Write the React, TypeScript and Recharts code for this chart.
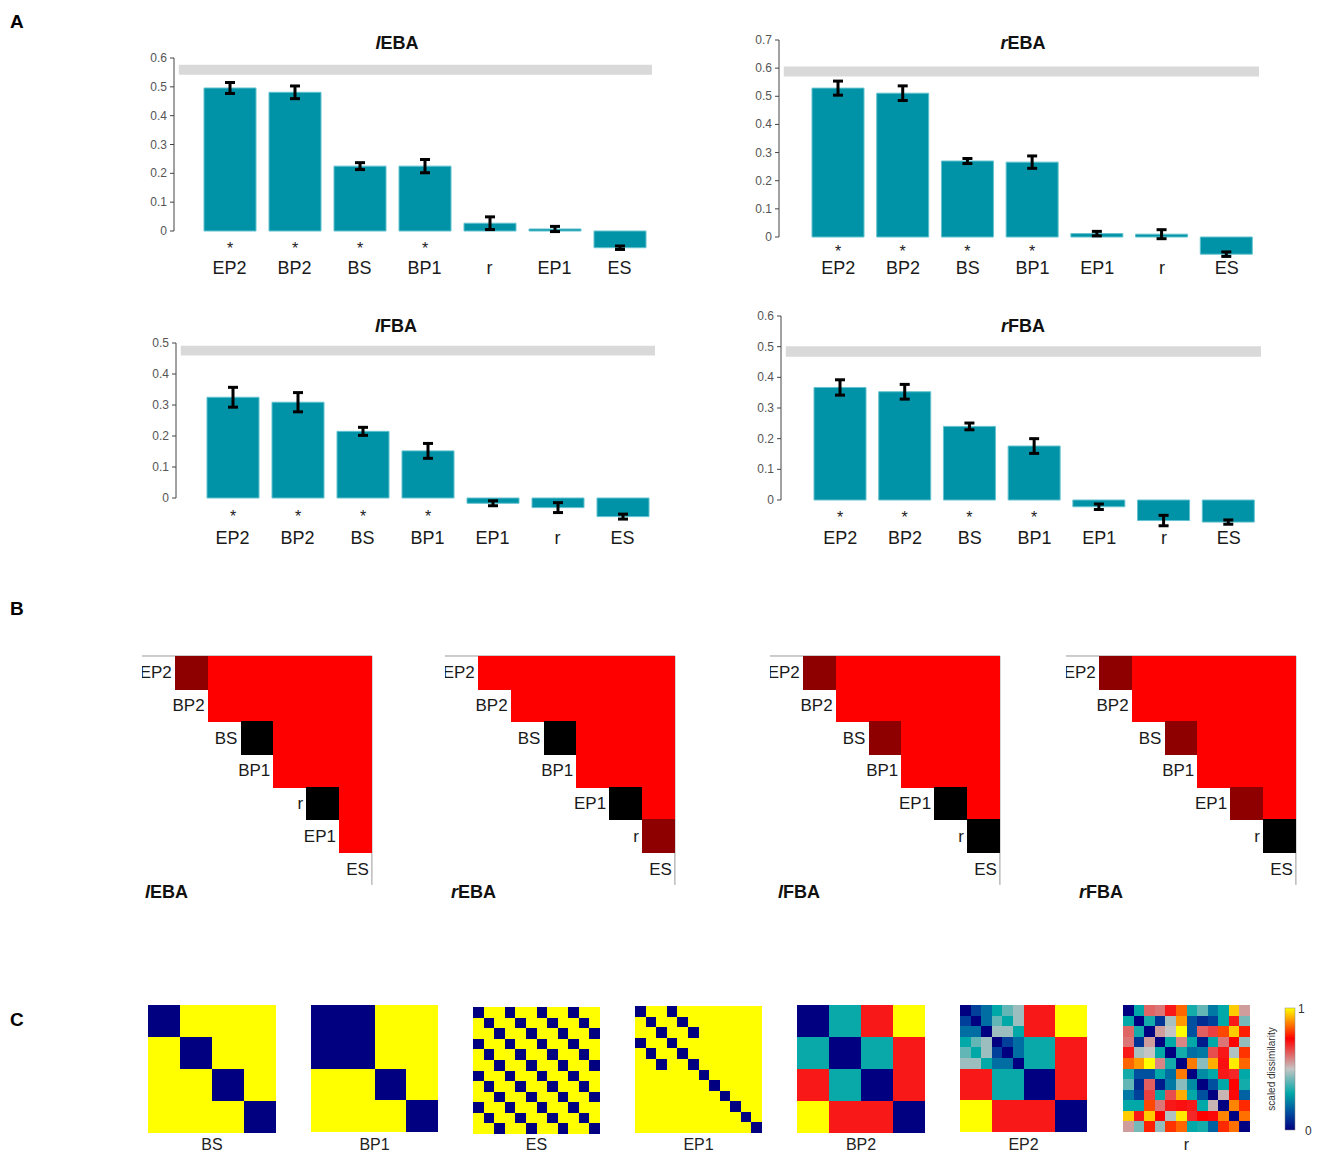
import React from "react";
import {
  BarChart,
  Bar,
  XAxis,
  YAxis,
  ErrorBar,
  ReferenceArea,
  LabelList,
  ScatterChart,
  Scatter,
} from "recharts";

const FONT = "'Liberation Sans', Arial, Helvetica, sans-serif";
const BAR_FILL = "#0092a6";

// ---------- A: model fits per region ----------
const LEBA_MODELS = ["EP2", "BP2", "BS", "BP1", "r", "EP1", "ES"];
const LEBA_MEANS = [0.496, 0.481, 0.225, 0.225, 0.027, 0.007, -0.058];
const LEBA_SEM = [0.019, 0.022, 0.012, 0.023, 0.022, 0.009, 0.006];
const LEBA_SIG = [1, 1, 1, 1, 0, 0, 0];
const LEBA_CEILING = [0.542, 0.577];

const REBA_MODELS = ["EP2", "BP2", "BS", "BP1", "EP1", "r", "ES"];
const REBA_MEANS = [0.529, 0.511, 0.27, 0.266, 0.012, 0.01, -0.061];
const REBA_SEM = [0.025, 0.026, 0.009, 0.022, 0.008, 0.016, 0.008];
const REBA_SIG = [1, 1, 1, 1, 0, 0, 0];
const REBA_CEILING = [0.57, 0.606];

const LFBA_MODELS = ["EP2", "BP2", "BS", "BP1", "EP1", "r", "ES"];
const LFBA_MEANS = [0.325, 0.309, 0.215, 0.152, -0.017, -0.031, -0.06];
const LFBA_SEM = [0.032, 0.031, 0.013, 0.024, 0.008, 0.016, 0.008];
const LFBA_SIG = [1, 1, 1, 1, 0, 0, 0];
const LFBA_CEILING = [0.46, 0.491];

const RFBA_MODELS = ["EP2", "BP2", "BS", "BP1", "EP1", "r", "ES"];
const RFBA_MEANS = [0.367, 0.353, 0.24, 0.176, -0.022, -0.067, -0.072];
const RFBA_SEM = [0.025, 0.024, 0.011, 0.024, 0.009, 0.017, 0.007];
const RFBA_SIG = [1, 1, 1, 1, 0, 0, 0];
const RFBA_CEILING = [0.467, 0.501];

// ---------- B: pairwise model comparisons (0 = n.s., 1 = weak, 2 = significant) ----------
const B_LEBA_LABELS = ["EP2", "BP2", "BS", "BP1", "r", "EP1", "ES"];
const B_LEBA_ROWS = [[1, 2, 2, 2, 2, 2], [2, 2, 2, 2, 2], [0, 2, 2, 2], [2, 2, 2], [0, 2], [2]];
const B_REBA_LABELS = ["EP2", "BP2", "BS", "BP1", "EP1", "r", "ES"];
const B_REBA_ROWS = [[2, 2, 2, 2, 2, 2], [2, 2, 2, 2, 2], [0, 2, 2, 2], [2, 2, 2], [0, 2], [1]];
const B_LFBA_LABELS = ["EP2", "BP2", "BS", "BP1", "EP1", "r", "ES"];
const B_LFBA_ROWS = [[1, 2, 2, 2, 2, 2], [2, 2, 2, 2, 2], [1, 2, 2, 2], [2, 2, 2], [0, 2], [0]];
const B_RFBA_LABELS = ["EP2", "BP2", "BS", "BP1", "EP1", "r", "ES"];
const B_RFBA_ROWS = [[1, 2, 2, 2, 2, 2], [2, 2, 2, 2, 2], [1, 2, 2, 2], [2, 2, 2], [1, 2], [0]];
const PAIR_COLORS = ["#000000", "#8e0000", "#ff0000"];

// ---------- C: model RDMs ----------
const BS_GROUPS = [0, 1, 2, 3];
const BP1_GROUPS = [0, 0, 1, 2];
const ES_GROUPS = [0, 1, 2, 0, 1, 2, 0, 1, 2, 0, 1, 2];
const EP1_GROUPS = [0, 1, 2, 0, 1, 2, 3, 4, 5, 6, 7, 8];
const BP2_RDM = [
  [0, 0.31, 0.72, 1],
  [0.31, 0, 0.31, 0.72],
  [0.72, 0.31, 0, 0.72],
  [1, 0.72, 0.72, 0],
];
const EP2_FINE = [
  [0, 0.12, 0.2, 0.3, 0.4, 0.46],
  [0.12, 0, 0.2, 0.4, 0.3, 0.46],
  [0.2, 0.2, 0, 0.46, 0.46, 0.3],
  [0.3, 0.4, 0.46, 0, 0.12, 0.2],
  [0.4, 0.3, 0.46, 0.12, 0, 0.2],
  [0.46, 0.46, 0.3, 0.2, 0.2, 0],
];
// upper triangle of the random model, row i holds columns i+1..11
const R_UPPER = [
  [0.3, 0.62, 0.6, 0.72, 0.85, 0.32, 0.4, 0.22, 0.3, 0.95, 0.55],
  [0.32, 0.1, 0.47, 0.9, 0.15, 0.08, 0.12, 0.3, 0.72, 0.42],
  [0.55, 0.5, 1.0, 0.15, 0.63, 0.67, 0.82, 0.95, 0.78],
  [0.3, 0.58, 0.3, 0.05, 0.3, 0.6, 0.75, 0.45],
  [0.32, 0.2, 0.22, 0.65, 0.72, 0.48, 0.8],
  [0.87, 0.44, 0.92, 0.73, 0.98, 0.85],
  [0.25, 0.3, 0.72, 0.7, 0.3],
  [0.15, 0.3, 0.75, 0.32],
  [0.52, 0.74, 0.18],
  [0.88, 0.79],
  [0.86],
];

const CMAP: [number, number[]][] = [
  [0, [0, 0, 128]],
  [0.15, [0, 80, 160]],
  [0.3, [0, 168, 168]],
  [0.5, [196, 196, 196]],
  [0.75, [255, 0, 0]],
  [1, [255, 255, 0]],
];

function colormap(v: number) {
  for (let k = 1; k < CMAP.length; k++) {
    const [p1, c1] = CMAP[k];
    const [p0, c0] = CMAP[k - 1];
    if (v <= p1) {
      const t = (v - p0) / (p1 - p0);
      const c = c0.map((a, i) => Math.round(a + (c1[i] - a) * t));
      return `rgb(${c[0]},${c[1]},${c[2]})`;
    }
  }
  return "rgb(255,255,0)";
}

const fromGroups = (g: number[]) => g.map((a) => g.map((b) => (a === b ? 0 : 1)));
const ep2Matrix = () =>
  Array.from({ length: 12 }, (_, i) =>
    Array.from({ length: 12 }, (_, j) =>
      i < 6 && j < 6 ? EP2_FINE[i][j] : BP2_RDM[Math.floor(i / 3)][Math.floor(j / 3)],
    ),
  );
const fromUpper = (u: number[][]) => {
  const n = u.length + 1;
  const m = Array.from({ length: n }, () => Array(n).fill(0));
  u.forEach((row, i) =>
    row.forEach((v, k) => {
      m[i][i + 1 + k] = v;
      m[i + 1 + k][i] = v;
    }),
  );
  return m;
};

function Title({ region, x, y, align }: any) {
  return (
    <div
      style={{
        position: "absolute",
        left: align === "left" ? x : x - 60,
        width: 120,
        top: y - 11,
        lineHeight: "22px",
        textAlign: align === "left" ? "left" : "center",
        fontSize: 18,
        fontWeight: "bold",
        fontFamily: FONT,
        color: "#111",
      }}
    >
      <i>{region[0]}</i>
      {region.slice(1)}
    </div>
  );
}

function BarPanel(props: any) {
  const {
    region, models, means, sem, sig, ceiling, yMax, yMin,
    plotLeft, plotRight, plotTop, zeroY, padLeft, labelY, starGap, titleX, titleY,
  } = props;
  const ppu = (zeroY - plotTop) / yMax;
  const plotBottom = zeroY - yMin * ppu;
  const left = plotLeft - 45;
  const top = plotTop - 10;
  const width = plotRight + 6 - left;
  const height = labelY + 16 - top;
  const xAxisHeight = height - 10 - (plotBottom - plotTop);
  const last = models.length - 1;
  const data = models.map((m: string, i: number) => ({
    model: m,
    value: means[i],
    sem: sem[i],
    star: sig[i] ? "*" : "",
  }));
  const ticks: number[] = [];
  for (let t = 0; t <= Math.round(yMax * 10); t++) ticks.push(t / 10);

  const YTick = (p: any) => {
    const v = p.payload.value;
    return (
      <g>
        {v === 0 && (
          <line x1={p.x + 7} x2={p.x + 7} y1={p.y} y2={p.y - yMax * ppu} stroke="#444" strokeWidth={1} />
        )}
        <text x={p.x} y={p.y} dy={4} textAnchor="end" fontSize={12} fill="#555" fontFamily={FONT}>
          {v === 0 ? "0" : v.toFixed(1)}
        </text>
      </g>
    );
  };
  const XTick = (p: any) => (
    <text x={p.x} y={labelY - top} dy={6} textAnchor="middle" fontSize={18} fill="#1a1a1a" fontFamily={FONT}>
      {p.payload.value}
    </text>
  );
  const renderStar = (p: any) =>
    p.value ? (
      <text x={p.x + p.width / 2} y={p.y + p.height + starGap + 9} textAnchor="middle" fontSize={16} fill="#222" fontFamily={FONT}>
        *
      </text>
    ) : (
      <g />
    );

  return (
    <>
      <div style={{ position: "absolute", left, top }}>
        <BarChart width={width} height={height} data={data} margin={{ top: 10, right: 6, left: 0, bottom: 0 }}>
          <XAxis xAxisId="full" type="number" domain={[0, last]} hide allowDataOverflow />
          <ReferenceArea xAxisId="full" x1={last * 0.01} x2={last} y1={ceiling[0]} y2={ceiling[1]} fill="#d9d9d9" fillOpacity={1} stroke="none" />
          <XAxis
            dataKey="model"
            axisLine={false}
            tickLine={false}
            interval={0}
            height={xAxisHeight}
            padding={{ left: padLeft, right: 0 }}
            tick={XTick}
          />
          <YAxis
            width={45}
            domain={[yMin, yMax]}
            ticks={ticks}
            axisLine={false}
            tickSize={4}
            tickMargin={3}
            tickLine={{ stroke: "#444" }}
            tick={YTick}
          />
          <Bar dataKey="value" fill={BAR_FILL} stroke="#62c2cf" strokeWidth={1} barSize={52} isAnimationActive={false}>
            <ErrorBar dataKey="sem" width={5} strokeWidth={3} stroke="#000" direction="y" />
            <LabelList dataKey="star" content={renderStar} />
          </Bar>
        </BarChart>
      </div>
      <Title region={region} x={titleX} y={titleY} />
    </>
  );
}

function PairMatrix({ region, labels, rows, gridLeft, gridTop, titleX, titleY }: any) {
  const n = labels.length;
  const cell = 32.7;
  const size = n * cell;
  const cells: any[] = [];
  rows.forEach((r: number[], i: number) =>
    r.forEach((code, k) => cells.push({ col: i + 1 + k, row: i, code })),
  );
  const diag = labels.map((l: string, i: number) => ({ col: i, row: i, label: l }));
  const idx = labels.map((_: string, i: number) => i);
  const cellShape = (p: any) => (
    <rect x={p.cx - cell / 2} y={p.cy - cell / 2} width={cell + 1} height={cell + 1}
      fill={PAIR_COLORS[p.payload.code]} shapeRendering="crispEdges" />
  );
  const labelShape = (p: any) => (
    <text x={p.cx + cell / 2 - 3} y={p.cy} dy={6} textAnchor="end" fontSize={17} fill="#1a1a1a" fontFamily={FONT}>
      {p.payload.label}
    </text>
  );
  return (
    <>
      <div style={{ position: "absolute", left: gridLeft - 20, top: gridTop - 11 }}>
        <ScatterChart width={size + 32} height={size + 16} margin={{ top: 10, left: 20, right: 10, bottom: 5 }}>
          <XAxis type="number" dataKey="col" orientation="top" domain={[-0.5, n - 0.5]} ticks={idx} tick={false}
            height={1} axisLine={{ stroke: "#999" }} tickLine={{ stroke: "#999" }} tickSize={3} allowDataOverflow />
          <YAxis type="number" dataKey="row" orientation="right" domain={[-0.5, n - 0.5]} reversed ticks={idx} tick={false}
            width={1} axisLine={{ stroke: "#999" }} tickLine={{ stroke: "#999" }} tickSize={3} allowDataOverflow />
          <Scatter data={cells} shape={cellShape} isAnimationActive={false} />
          <Scatter data={diag} shape={labelShape} isAnimationActive={false} />
        </ScatterChart>
      </div>
      <Title region={region} x={titleX} y={titleY} align="left" />
    </>
  );
}

function Heat({ matrix, left, top, size, label }: any) {
  const n = matrix.length;
  const c = size / n;
  const data: any[] = [];
  matrix.forEach((row: number[], i: number) => row.forEach((v, j) => data.push({ x: j, y: i, v })));
  const shape = (p: any) => (
    <rect x={p.cx - c / 2} y={p.cy - c / 2} width={c + 0.6} height={c + 0.6} fill={colormap(p.payload.v)} shapeRendering="crispEdges" />
  );
  return (
    <>
      <div style={{ position: "absolute", left, top }}>
        <ScatterChart width={size} height={size} margin={{ top: 0, right: 0, bottom: 0, left: 0 }}>
          <XAxis type="number" dataKey="x" domain={[-0.5, n - 0.5]} hide allowDataOverflow />
          <YAxis type="number" dataKey="y" domain={[-0.5, n - 0.5]} reversed hide allowDataOverflow />
          <Scatter data={data} shape={shape} isAnimationActive={false} />
        </ScatterChart>
      </div>
      <div style={{ position: "absolute", left: left + size / 2 - 40, width: 80, top: 1135, lineHeight: "20px", textAlign: "center", fontSize: 16, fontFamily: FONT, color: "#222" }}>
        {label}
      </div>
    </>
  );
}

function Colorbar() {
  return (
    <svg style={{ position: "absolute", left: 1260, top: 1000 }} width={57} height={140}>
      <defs>
        <linearGradient id="cbar" x1="0" y1="1" x2="0" y2="0">
          {CMAP.map(([p]) => (
            <stop key={p} offset={`${p * 100}%`} stopColor={colormap(p)} />
          ))}
        </linearGradient>
      </defs>
      <rect x={25} y={8} width={10} height={122} fill="url(#cbar)" stroke="#888" strokeWidth={0.5} />
      <text x={38} y={13} fontSize={12} fill="#333" fontFamily={FONT}>1</text>
      <text x={45} y={135} fontSize={12} fill="#333" fontFamily={FONT}>0</text>
      <text transform="translate(15,69) rotate(-90)" textAnchor="middle" fontSize={10} fill="#333" fontFamily={FONT}>
        scaled dissimilarity
      </text>
    </svg>
  );
}

const Letter = ({ ch, y }: any) => (
  <div style={{ position: "absolute", left: 10, top: y - 11, lineHeight: "22px", fontSize: 19, fontWeight: "bold", fontFamily: FONT }}>
    {ch}
  </div>
);

export default function App() {
  return (
    <div style={{ position: "absolute", left: 0, top: 0, width: 1317, height: 1153, background: "#fff", fontFamily: FONT }}>
      <Letter ch="A" y={22} />
      <Letter ch="B" y={609} />
      <Letter ch="C" y={1020} />

      <BarPanel region="lEBA" models={LEBA_MODELS} means={LEBA_MEANS} sem={LEBA_SEM} sig={LEBA_SIG} ceiling={LEBA_CEILING}
        yMax={0.6} yMin={-0.075} plotLeft={174} plotRight={652} plotTop={58} zeroY={231} padLeft={23}
        labelY={268} starGap={14} titleX={397} titleY={43} />
      <BarPanel region="rEBA" models={REBA_MODELS} means={REBA_MEANS} sem={REBA_SEM} sig={REBA_SIG} ceiling={REBA_CEILING}
        yMax={0.7} yMin={-0.08} plotLeft={779} plotRight={1259} plotTop={40} zeroY={237} padLeft={27}
        labelY={268} starGap={11} titleX={1023} titleY={43} />
      <BarPanel region="lFBA" models={LFBA_MODELS} means={LFBA_MEANS} sem={LFBA_SEM} sig={LFBA_SIG} ceiling={LFBA_CEILING}
        yMax={0.5} yMin={-0.08} plotLeft={176} plotRight={655} plotTop={343} zeroY={498} padLeft={24}
        labelY={538} starGap={15} titleX={396} titleY={326} />
      <BarPanel region="rFBA" models={RFBA_MODELS} means={RFBA_MEANS} sem={RFBA_SEM} sig={RFBA_SIG} ceiling={RFBA_CEILING}
        yMax={0.6} yMin={-0.095} plotLeft={781} plotRight={1261} plotTop={316} zeroY={500} padLeft={27}
        labelY={538} starGap={14} titleX={1023} titleY={326} />

      <PairMatrix region="lEBA" labels={B_LEBA_LABELS} rows={B_LEBA_ROWS} gridLeft={142} gridTop={656} titleX={145} titleY={892} />
      <PairMatrix region="rEBA" labels={B_REBA_LABELS} rows={B_REBA_ROWS} gridLeft={445} gridTop={656} titleX={451} titleY={892} />
      <PairMatrix region="lFBA" labels={B_LFBA_LABELS} rows={B_LFBA_ROWS} gridLeft={770} gridTop={656} titleX={778} titleY={892} />
      <PairMatrix region="rFBA" labels={B_RFBA_LABELS} rows={B_RFBA_ROWS} gridLeft={1066} gridTop={656} titleX={1079} titleY={892} />

      <Heat matrix={fromGroups(BS_GROUPS)} left={148} top={1005} size={128} label="BS" />
      <Heat matrix={fromGroups(BP1_GROUPS)} left={311} top={1005} size={127} label="BP1" />
      <Heat matrix={fromGroups(ES_GROUPS)} left={473} top={1007} size={127} label="ES" />
      <Heat matrix={fromGroups(EP1_GROUPS)} left={635} top={1006} size={127} label="EP1" />
      <Heat matrix={BP2_RDM} left={797} top={1005} size={128} label="BP2" />
      <Heat matrix={ep2Matrix()} left={960} top={1005} size={127} label="EP2" />
      <Heat matrix={fromUpper(R_UPPER)} left={1123} top={1005} size={127} label="r" />
      <Colorbar />
    </div>
  );
}
